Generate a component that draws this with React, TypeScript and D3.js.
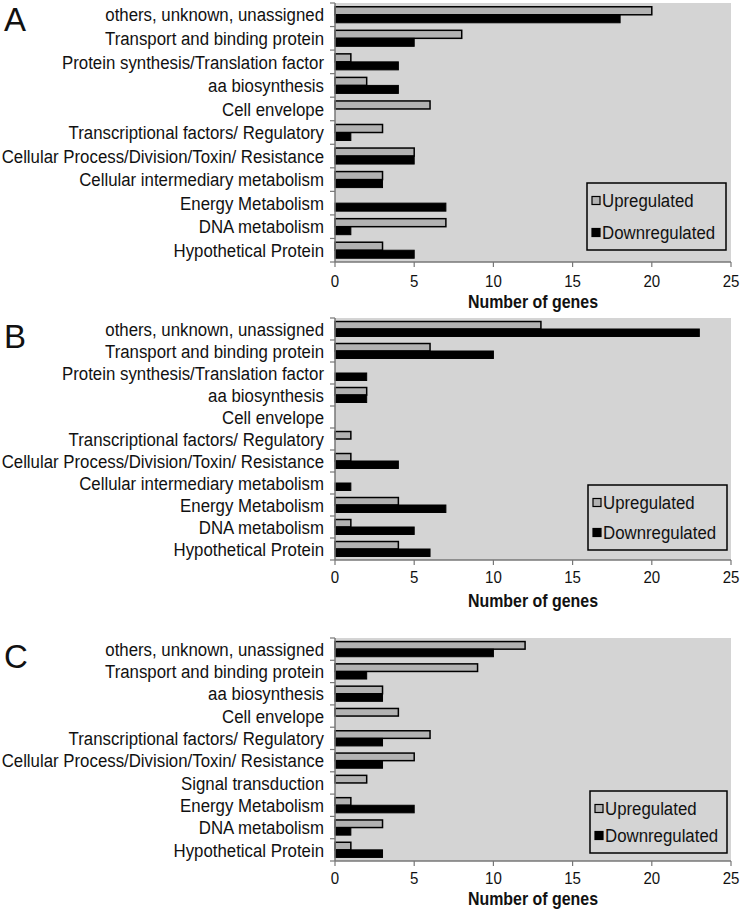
import React from "react";
import * as d3 from "d3";

const catsAB = [
  "others, unknown, unassigned",
  "Transport and binding protein",
  "Protein synthesis/Translation factor",
  "aa biosynthesis",
  "Cell envelope",
  "Transcriptional factors/ Regulatory",
  "Cellular Process/Division/Toxin/ Resistance",
  "Cellular intermediary metabolism",
  "Energy Metabolism",
  "DNA metabolism",
  "Hypothetical Protein",
];
const catsC = [
  "others, unknown, unassigned",
  "Transport and binding protein",
  "aa biosynthesis",
  "Cell envelope",
  "Transcriptional factors/ Regulatory",
  "Cellular Process/Division/Toxin/ Resistance",
  "Signal transduction",
  "Energy Metabolism",
  "DNA metabolism",
  "Hypothetical Protein",
];
const upA = [20, 8, 1, 2, 6, 3, 5, 3, 0, 7, 3];
const downA = [18, 5, 4, 4, 0, 1, 5, 3, 7, 1, 5];
const upB = [13, 6, 0, 2, 0, 1, 1, 0, 4, 1, 4];
const downB = [23, 10, 2, 2, 0, 0, 4, 1, 7, 5, 6];
const upC = [12, 9, 3, 4, 6, 5, 2, 1, 3, 1];
const downC = [10, 2, 3, 0, 3, 3, 0, 5, 1, 3];
const xTicks = [0, 5, 10, 15, 20, 25];
const seriesNames = ["Upregulated", "Downregulated"];
const xTitle = "Number of genes";

const FONT = "'Liberation Sans', Arial, sans-serif";

function NText(props: {
  x: number;
  y: number;
  anchor?: "start" | "middle" | "end";
  size?: number;
  sx?: number;
  bold?: boolean;
  children: React.ReactNode;
}) {
  const sx = props.sx ?? 0.885;
  return (
    <g transform={`translate(${props.x},${props.y}) scale(${sx},1)`}>
      <text
        x={0}
        y={0}
        dy="0.35em"
        textAnchor={props.anchor || "start"}
        fontFamily={FONT}
        fontSize={props.size || 19}
        fontWeight={props.bold ? "bold" : "normal"}
        fill="#111"
      >
        {props.children}
      </text>
    </g>
  );
}

type PanelProps = {
  letter: string;
  letterY: number;
  cats: string[];
  up: number[];
  down: number[];
  top: number;
  bottom: number;
  legend: { x: number; y: number; w: number; h: number; gap: number };
  tickY: number;
  titleY: number;
};

function Panel(p: PanelProps) {
  const x = d3.scaleLinear().domain([0, 25]).range([335, 731]);
  const y = d3.scaleBand<string>().domain(p.cats).range([p.top, p.bottom]).paddingInner(0).paddingOuter(0);
  const bw = y.bandwidth();
  const bh = bw * 0.34;
  const x0 = x(0);
  return (
    <g>
      <text x={4} y={p.letterY} fontFamily={FONT} fontSize={33} fill="#111">
        {p.letter}
      </text>
      <rect x={x0} y={p.top} width={x(25) - x0} height={p.bottom - p.top} fill="#d4d4d4" />
      {p.cats.map((c, i) => {
        const yc = (y(c) as number) + bw / 2;
        return (
          <g key={c}>
            <NText x={324} y={yc} anchor="end">
              {c}
            </NText>
            {p.up[i] > 0 && (
              <rect
                x={x0}
                y={yc - bh}
                width={x(p.up[i]) - x0}
                height={bh}
                fill="#b2b2b2"
                stroke="#000"
                strokeWidth={1.5}
              />
            )}
            {p.down[i] > 0 && (
              <rect x={x0} y={yc} width={x(p.down[i]) - x0} height={bh} fill="#000" stroke="#000" strokeWidth={1} />
            )}
          </g>
        );
      })}
      {/* y axis */}
      <line x1={x0} x2={x0} y1={p.top} y2={p.bottom} stroke="#777" strokeWidth={1.5} />
      {d3.range(p.cats.length + 1).map((i) => {
        const yy = p.top + i * bw;
        return <line key={i} x1={x0 - 5} x2={x0} y1={yy} y2={yy} stroke="#777" strokeWidth={1.2} />;
      })}
      {/* x axis */}
      <line x1={x0} x2={x(25)} y1={p.bottom} y2={p.bottom} stroke="#777" strokeWidth={1.5} />
      {xTicks.map((t) => (
        <g key={t}>
          <line x1={x(t)} x2={x(t)} y1={p.bottom} y2={p.bottom + 5} stroke="#777" strokeWidth={1.2} />
          <NText x={x(t)} y={p.tickY} anchor="middle" size={17}>
            {t}
          </NText>
        </g>
      ))}
      <NText x={(x(0) + x(25)) / 2} y={p.titleY} anchor="middle" bold size={18}>
        {xTitle}
      </NText>
      {/* legend */}
      <rect x={p.legend.x} y={p.legend.y} width={p.legend.w} height={p.legend.h} fill="none" stroke="#000" strokeWidth={1.5} />
      {seriesNames.map((s, i) => {
        const ly = p.legend.y + p.legend.h / 2 + (i - 0.5) * p.legend.gap;
        return (
          <g key={s}>
            <rect
              x={p.legend.x + 5}
              y={ly - 4}
              width={8}
              height={8}
              fill={i === 0 ? "#b2b2b2" : "#000"}
              stroke="#000"
              strokeWidth={1.2}
            />
            <NText x={p.legend.x + 15} y={ly}>
              {s}
            </NText>
          </g>
        );
      })}
    </g>
  );
}

export default function App() {
  return (
    <svg width={742} height={912} style={{ position: "absolute", left: 0, top: 0, background: "#fff" }}>
      <rect x={0} y={0} width={742} height={912} fill="#fff" />
      <Panel
        letter="A"
        letterY={31}
        cats={catsAB}
        up={upA}
        down={downA}
        top={3}
        bottom={262}
        legend={{ x: 587, y: 183, w: 139, h: 67, gap: 32 }}
        tickY={281}
        titleY={302}
      />
      <Panel
        letter="B"
        letterY={348}
        cats={catsAB}
        up={upB}
        down={downB}
        top={318}
        bottom={560}
        legend={{ x: 588, y: 485, w: 139, h: 65, gap: 30 }}
        tickY={577}
        titleY={601}
      />
      <Panel
        letter="C"
        letterY={668}
        cats={catsC}
        up={upC}
        down={downC}
        top={638}
        bottom={861}
        legend={{ x: 590, y: 791, w: 137, h: 62, gap: 27 }}
        tickY={878}
        titleY={899}
      />
    </svg>
  );
}
